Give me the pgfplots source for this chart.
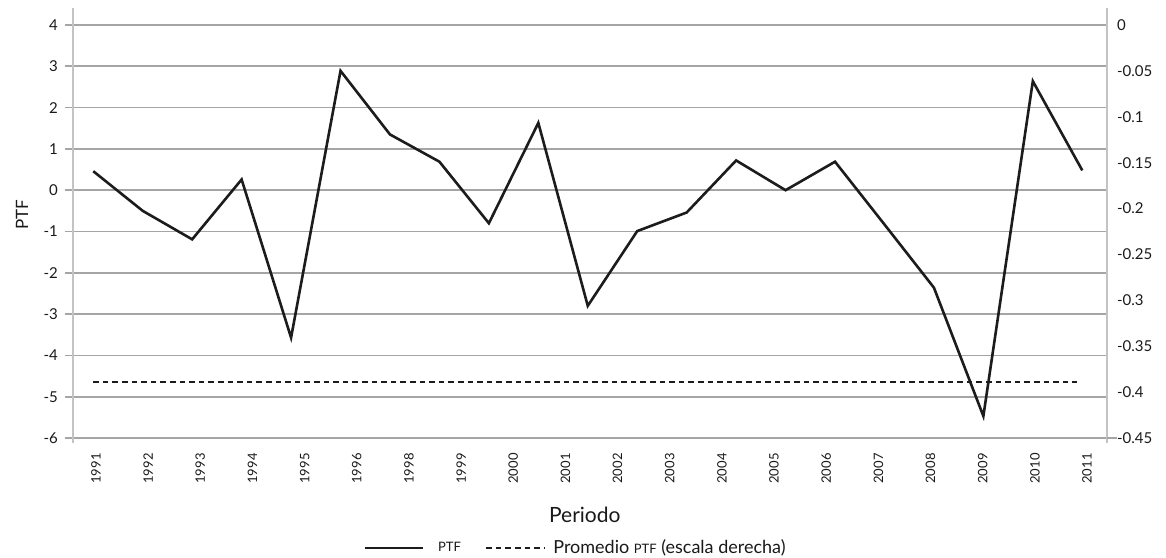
\documentclass[border=0pt]{standalone}
\usepackage{fontspec}
\setmainfont{Lato}
\usepackage{pgfplots}
\pgfplotsset{compat=1.18}
\definecolor{gridgray}{RGB}{165,165,165}
\definecolor{axisgray}{RGB}{195,195,195}
\definecolor{linecol}{RGB}{28,28,28}
\definecolor{txt}{RGB}{25,25,25}
\begin{document}
\begin{tikzpicture}
\useasboundingbox (-36.5pt,-57pt) rectangle (546.5pt,221.5pt);
\begin{axis}[
  scale only axis, width=517pt, height=217.5pt,
  at={(0pt,0pt)}, anchor=south west,
  xmin=1990.59, xmax=2011.5, ymin=-6.121, ymax=4.412,
  axis x line*=bottom, axis y line*=left,
  x axis line style={draw=none},
  y axis line style={axisgray, line width=1.4pt, -},
  ytick={-6,-5,-4,-3,-2,-1,0,1,2,3,4},
  ymajorgrids, grid style={gridgray, line width=0.85pt},
  ytick style={gridgray, line width=0.85pt},
  tick align=outside, major tick length=4pt,
  xtick={1990.913,1991.968,1993.023,1994.077,1995.132,1996.187,1997.242,1998.297,1999.351,2000.406,2001.461,2002.516,2003.571,2004.625,2005.680,2006.735,2007.790,2008.845,2009.899,2010.954},
  xticklabels={1991,1992,1993,1994,1995,1996,1998,1999,2000,2001,2002,2003,2004,2005,2006,2007,2008,2009,2010,2011},
  xtick style={draw=none},
  xticklabel style={rotate=90, anchor=east, font=\fontsize{6.5}{7.5}\selectfont, text=txt, inner sep=1pt, yshift=-3.5pt},
  yticklabel style={font=\fontsize{7.5}{8.5}\selectfont, text=txt},
  /pgf/number format/assume math mode=true,
  xlabel={Periodo},
  every axis x label/.style={at={(rel axis cs:0.495,-0.1655)}, anchor=center, font=\fontsize{10.5}{12}\selectfont, text=txt},
  ylabel={PTF},
  every axis y label/.style={at={(rel axis cs:-0.0493,0.524)}, rotate=90, anchor=center, font=\fontsize{8.5}{10}\selectfont, text=txt},
  clip=false,
]
\addplot[linecol, line width=1.3pt, mark=none] coordinates {
  (1991,0.46) (1992,-0.50) (1993,-1.19) (1994,0.26) (1995,-3.57)
  (1996,2.89) (1997,1.35) (1998,0.69) (1999,-0.80) (2000,1.63)
  (2001,-2.80) (2002,-0.99) (2003,-0.54) (2004,0.72) (2005,0.00)
  (2006,0.69) (2007,-0.83) (2008,-2.36) (2009,-5.47) (2010,2.64)
  (2011,0.48)
};
\end{axis}
\begin{axis}[
  scale only axis, width=517pt, height=217.5pt,
  at={(0pt,0pt)}, anchor=south west,
  xmin=1990.59, xmax=2011.5, ymin=-0.45545, ymax=0.01854,
  axis x line=none, axis y line*=right,
  y axis line style={axisgray, line width=1.4pt, -},
  ytick={0,-0.05,-0.1,-0.15,-0.2,-0.25,-0.3,-0.35,-0.4,-0.45},
  ytick style={draw=none},
  yticklabel style={font=\fontsize{7.5}{8.5}\selectfont, text=txt, xshift=1.5pt},
  extra y ticks={-0.45}, extra y tick labels={},
  extra y tick style={tick align=outside, major tick length=5pt, ytick style={draw=gridgray, line width=0.85pt}},
  /pgf/number format/fixed,
  /pgf/number format/precision=2,
  /pgf/number format/assume math mode=true,
  legend style={draw=none, fill=none, at={(0.487,-0.241)}, anchor=center, legend columns=2,
    font=\fontsize{9}{10}\selectfont, text=txt},
  legend image code/.code={\draw[#1] (0pt,0pt) -- (29pt,0pt);},
  clip=false,
]
\addlegendimage{linecol, line width=1.3pt}
\addlegendentry{\hspace*{5pt}{\fontsize{6.5}{7}\selectfont PTF}\hspace*{10pt}}
\addplot[linecol, line width=1.2pt, dash pattern=on 2.8pt off 2pt, mark=none] coordinates {
  (1991,-0.389) (2010.9,-0.389)
};
\addlegendentry{\hspace*{2pt}Promedio {\fontsize{6.5}{7}\selectfont PTF} (escala derecha)}
\end{axis}
\end{tikzpicture}
\end{document}
